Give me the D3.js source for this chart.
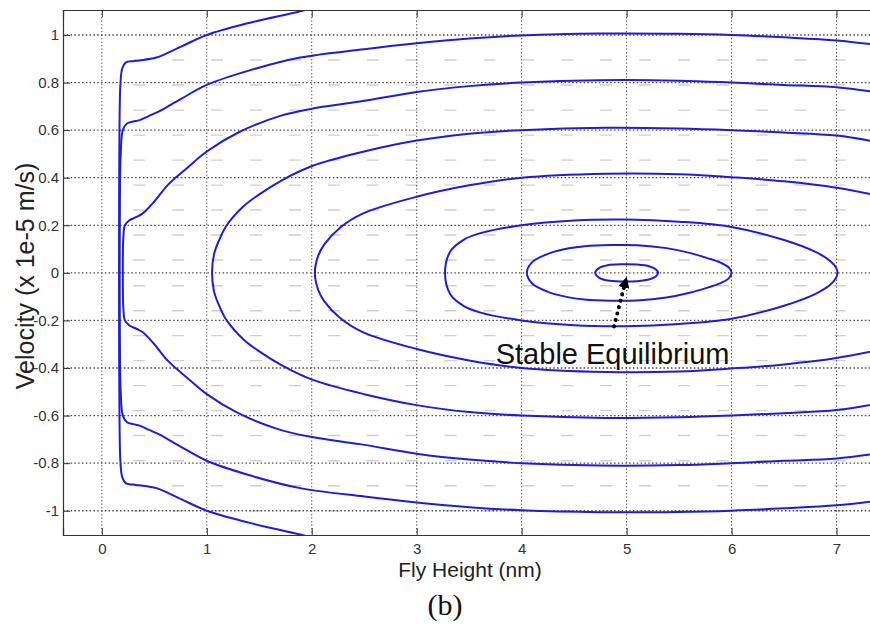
<!DOCTYPE html>
<html>
<head>
<meta charset="utf-8">
<script src="https://cdn.jsdelivr.net/npm/d3@7"></script>
<style>
  html, body { margin: 0; padding: 0; background: #fff; }
  svg { display: block; }
</style>
</head>
<body>
<svg id="chart" width="870" height="626"></svg>
<script>
// Phase portrait of slider fly height vs. velocity

const xTicks = [0, 1, 2, 3, 4, 5, 6, 7];
const yTicks = [-1, -0.8, -0.6, -0.4, -0.2, 0, 0.2, 0.4, 0.6, 0.8, 1];

// faint minor rows between the main grid lines
const minorRows = [0.895, 0.79, 0.684, 0.579, 0.474, 0.369, 0.264, 0.159, 0.054,
  -0.054, -0.159, -0.264, -0.369, -0.474, -0.579, -0.684, -0.79, -0.895, -1.0];

// trajectories that hit the wall near x = 0.17 and come back (fly height, velocity)
const trajA = [
  [2.1, -1.125], [1.89, -1.10], [1.4, -1.05], [1.0, -1.0], [0.75, -0.95], [0.52, -0.905],
  [0.36, -0.893], [0.3, -0.89], [0.23, -0.885], [0.195, -0.86], [0.178, -0.8], [0.168, -0.6],
  [0.165, -0.3], [0.164, 0], [0.165, 0.3], [0.168, 0.6], [0.178, 0.8], [0.195, 0.86],
  [0.23, 0.885], [0.3, 0.89], [0.36, 0.893], [0.52, 0.905], [0.75, 0.95], [1.0, 1.0],
  [1.4, 1.05], [1.89, 1.10], [2.1, 1.125]
];
const trajB = [
  [7.45, -0.955], [7.0, -0.977], [6.5, -0.99], [6.0, -1.0], [5.5, -1.005], [4.74, -1.006],
  [4.0, -0.998], [3.5, -0.985], [3.0, -0.965], [2.5, -0.94], [1.89, -0.905], [1.4, -0.85],
  [1.0, -0.79], [0.75, -0.73], [0.55, -0.68], [0.45, -0.66], [0.36, -0.642], [0.3, -0.636],
  [0.24, -0.628], [0.2, -0.6], [0.18, -0.5], [0.172, -0.3], [0.17, 0], [0.172, 0.3],
  [0.18, 0.5], [0.2, 0.6], [0.24, 0.628], [0.3, 0.636], [0.36, 0.642], [0.45, 0.66],
  [0.55, 0.68], [0.75, 0.73], [1.0, 0.79], [1.4, 0.85], [1.89, 0.905], [2.5, 0.94],
  [3.0, 0.965], [3.5, 0.985], [4.0, 0.998], [4.74, 1.006], [5.5, 1.005], [6.0, 1.0],
  [6.5, 0.99], [7.0, 0.977], [7.45, 0.955]
];
const trajC = [
  [7.45, -0.755], [7.0, -0.78], [6.5, -0.79], [6.0, -0.80], [5.5, -0.808], [4.74, -0.81],
  [4.0, -0.80], [3.5, -0.785], [3.0, -0.76], [2.46, -0.72], [2.0, -0.69], [1.7, -0.66],
  [1.3, -0.59], [1.0, -0.51], [0.81, -0.44], [0.63, -0.37], [0.5, -0.30], [0.39, -0.25],
  [0.33, -0.235], [0.26, -0.22], [0.22, -0.2], [0.205, -0.15], [0.2, 0], [0.205, 0.15],
  [0.22, 0.2], [0.26, 0.22], [0.33, 0.235], [0.39, 0.25], [0.5, 0.30], [0.63, 0.37],
  [0.81, 0.44], [1.0, 0.51], [1.3, 0.59], [1.7, 0.66], [2.0, 0.69], [2.46, 0.72],
  [3.0, 0.76], [3.5, 0.785], [4.0, 0.80], [4.74, 0.81], [5.5, 0.808], [6.0, 0.80],
  [6.5, 0.79], [7.0, 0.78], [7.45, 0.755]
];

// open orbits that leave the window on the right
const orbitD = [
  [7.45, -0.545], [7.0, -0.577], [6.5, -0.59], [6.0, -0.60], [5.5, -0.607], [4.8, -0.61],
  [4.0, -0.60], [3.5, -0.585], [3.0, -0.556], [2.5, -0.51], [2.01, -0.45], [1.72, -0.39],
  [1.5, -0.33], [1.35, -0.28], [1.19, -0.2], [1.12, -0.14], [1.07, -0.08], [1.05, 0],
  [1.07, 0.08], [1.12, 0.14], [1.19, 0.2], [1.35, 0.28], [1.5, 0.33], [1.72, 0.39],
  [2.01, 0.45], [2.5, 0.51], [3.0, 0.556], [3.5, 0.585], [4.0, 0.60], [4.8, 0.61],
  [5.5, 0.607], [6.0, 0.60], [6.5, 0.59], [7.0, 0.577], [7.45, 0.545]
];
const orbitE = [
  [7.45, -0.32], [7.0, -0.358], [6.5, -0.385], [6.0, -0.402], [5.5, -0.415], [4.8, -0.417],
  [4.0, -0.40], [3.5, -0.368], [3.0, -0.32], [2.49, -0.25], [2.27, -0.19], [2.12, -0.12],
  [2.06, -0.07], [2.03, 0], [2.06, 0.07], [2.12, 0.12], [2.27, 0.19], [2.49, 0.25],
  [3.0, 0.32], [3.5, 0.368], [4.0, 0.40], [4.8, 0.417], [5.5, 0.415], [6.0, 0.402],
  [6.5, 0.385], [7.0, 0.358], [7.45, 0.32]
];

// closed orbits around the stable equilibrium at 5 nm
const orbitF = [
  [3.27, 0], [3.32, 0.09], [3.45, 0.14], [3.6, 0.166], [4.0, 0.2], [4.5, 0.22], [5.0, 0.224],
  [5.5, 0.215], [6.0, 0.193], [6.5, 0.138], [6.8, 0.088], [6.94, 0.05], [6.995, 0.022], [7.01, 0],
  [6.995, -0.022], [6.94, -0.05], [6.8, -0.088], [6.5, -0.138], [6.0, -0.193], [5.5, -0.215],
  [5.0, -0.224], [4.5, -0.22], [4.0, -0.2], [3.6, -0.166], [3.45, -0.14], [3.32, -0.09]
];
const orbitG = [
  [4.05, 0], [4.1, 0.045], [4.27, 0.083], [4.45, 0.103], [4.6, 0.112], [4.85, 0.117],
  [5.1, 0.116], [5.38, 0.104], [5.6, 0.084], [5.77, 0.062], [5.9, 0.042], [5.975, 0.022], [6.0, 0],
  [5.975, -0.022], [5.9, -0.042], [5.77, -0.062], [5.6, -0.084], [5.38, -0.104], [5.1, -0.116],
  [4.85, -0.117], [4.6, -0.112], [4.45, -0.103], [4.27, -0.083], [4.1, -0.045]
];
const orbitH = [
  [4.70, 0], [4.74, 0.021], [4.82, 0.032], [4.95, 0.036], [5.1, 0.035], [5.22, 0.027],
  [5.28, 0.014], [5.30, 0], [5.28, -0.014], [5.22, -0.027], [5.1, -0.035], [4.95, -0.036],
  [4.82, -0.032], [4.74, -0.021]
];

const openCurves = [trajA, trajB, trajC, orbitD, orbitE];
const closedCurves = [orbitF, orbitG, orbitH];

// annotation: arrow from label to the equilibrium point
const arrowFrom = [4.88, -0.225];
const arrowTo = [4.995, -0.025];
const labelText = "Stable Equilibrium";
const labelAt = [5.98, -0.383];

const svg = d3.select("#chart");
const plotLeft = 63, plotTop = 10, plotW = 826, plotH = 525;

const x = d3.scaleLinear().domain([-0.37, 7.5]).range([plotLeft, plotLeft + plotW]);
const y = d3.scaleLinear().domain([-1.102, 1.105]).range([plotTop + plotH, plotTop]);

svg.append("rect").attr("width", 870).attr("height", 626).attr("fill", "#fff");

const defs = svg.append("defs");
defs.append("clipPath").attr("id", "plotClip")
  .append("rect").attr("x", plotLeft).attr("y", plotTop).attr("width", plotW).attr("height", plotH);

const plot = svg.append("g").attr("clip-path", "url(#plotClip)");

// minor rows
plot.append("g").selectAll("line").data(minorRows).join("line")
  .attr("x1", x(0.3)).attr("x2", x(7.5))
  .attr("y1", d => y(d)).attr("y2", d => y(d))
  .attr("stroke", "#cfcfcf").attr("stroke-width", 1.4)
  .attr("stroke-dasharray", "12,26.9");

// dotted grid
const gridColor = "#4a4a4a";
plot.append("g").selectAll("line").data(xTicks).join("line")
  .attr("x1", d => x(d)).attr("x2", d => x(d))
  .attr("y1", plotTop).attr("y2", plotTop + plotH)
  .attr("stroke", gridColor).attr("stroke-width", 1)
  .attr("stroke-dasharray", "1.3,2.2");
plot.append("g").selectAll("line").data(yTicks).join("line")
  .attr("x1", plotLeft).attr("x2", plotLeft + plotW)
  .attr("y1", d => y(d)).attr("y2", d => y(d))
  .attr("stroke", gridColor).attr("stroke-width", 1.3)
  .attr("stroke-dasharray", "1.5,2.3");

// trajectories
const lineOpen = d3.line().x(d => x(d[0])).y(d => y(d[1]))
  .curve(d3.curveCatmullRom.alpha(0.5));
const lineClosed = d3.line().x(d => x(d[0])).y(d => y(d[1]))
  .curve(d3.curveCatmullRomClosed.alpha(0.5));
const curveColor = "#1e1ed6";

plot.append("g").selectAll("path").data(openCurves).join("path")
  .attr("d", lineOpen).attr("fill", "none")
  .attr("stroke", curveColor).attr("stroke-width", 2);
plot.append("g").selectAll("path").data(closedCurves).join("path")
  .attr("d", lineClosed).attr("fill", "none")
  .attr("stroke", curveColor).attr("stroke-width", 2);

// axes (ticks point inward)
const fmt = d => String(+d.toFixed(1));
const axisFont = "'Liberation Sans', Arial, Helvetica, sans-serif";

const gx = svg.append("g").attr("transform", `translate(0,${plotTop + plotH})`)
  .call(d3.axisBottom(x).tickValues(xTicks).tickSize(-7).tickPadding(8).tickFormat(fmt));
const gy = svg.append("g").attr("transform", `translate(${plotLeft},0)`)
  .call(d3.axisLeft(y).tickValues(yTicks).tickSize(-7).tickPadding(4).tickFormat(fmt));
const gt = svg.append("g").attr("transform", `translate(0,${plotTop})`)
  .call(d3.axisTop(x).tickValues(xTicks).tickSize(-7).tickFormat(""));

[gx, gy, gt].forEach(g => {
  g.select(".domain").attr("stroke", "#333").attr("stroke-width", 1.2);
  g.selectAll(".tick line").attr("stroke", "#333").attr("stroke-width", 1);
  g.selectAll(".tick text").attr("fill", "#333")
    .style("font-family", axisFont).style("font-size", "15px");
});

// axis titles
svg.append("text")
  .attr("x", 470).attr("y", 577).attr("text-anchor", "middle")
  .style("font-family", axisFont).style("font-size", "21px").attr("fill", "#222")
  .text("Fly Height (nm)");

svg.append("text")
  .attr("transform", "translate(34,276) rotate(-90)").attr("text-anchor", "middle")
  .style("font-family", axisFont).style("font-size", "25px").attr("fill", "#222")
  .text("Velocity (x 1e-5 m/s)");

svg.append("text")
  .attr("x", 445).attr("y", 615).attr("text-anchor", "middle")
  .style("font-family", "'Liberation Serif', 'Times New Roman', serif").style("font-size", "30px")
  .attr("fill", "#111")
  .text("(b)");

// annotation
defs.append("marker")
  .attr("id", "arrowHead").attr("viewBox", "0 0 10 10")
  .attr("refX", 8).attr("refY", 5).attr("markerWidth", 2.8).attr("markerHeight", 2.8)
  .attr("orient", "auto").attr("markerUnits", "strokeWidth")
  .append("path").attr("d", "M0,0 L10,5 L0,10 Z").attr("fill", "#000");

svg.append("line")
  .attr("x1", x(arrowFrom[0])).attr("y1", y(arrowFrom[1]))
  .attr("x2", x(arrowTo[0])).attr("y2", y(arrowTo[1]))
  .attr("stroke", "#000").attr("stroke-width", 4)
  .attr("stroke-linecap", "round").attr("stroke-dasharray", "0.1,6.5")
  .attr("marker-end", "url(#arrowHead)");

svg.append("text")
  .attr("x", x(labelAt[0])).attr("y", y(labelAt[1])).attr("text-anchor", "end")
  .style("font-family", axisFont).style("font-size", "29px").attr("fill", "#111")
  .text(labelText);
</script>
</body>
</html>
